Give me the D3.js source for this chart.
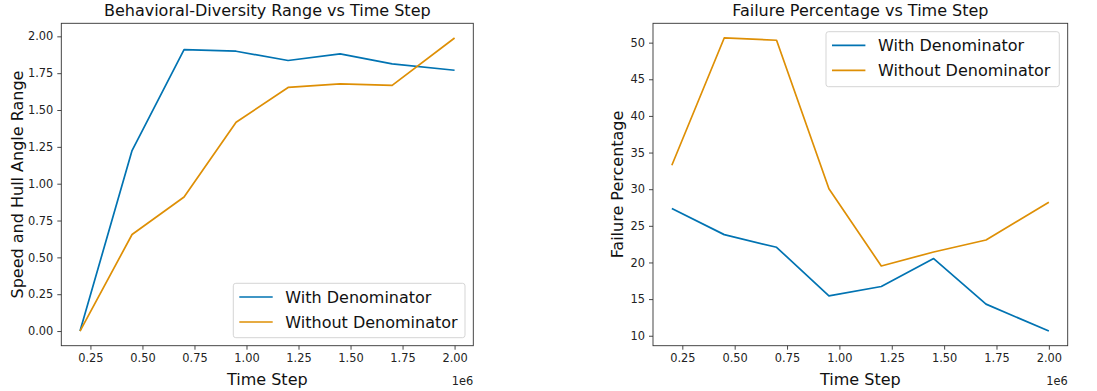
<!DOCTYPE html>
<html>
<head>
<meta charset="utf-8">
<script src="https://cdn.jsdelivr.net/npm/d3@7"></script>
<style>
  body { margin: 0; background: #fff; }
  svg { display: block; font-family: "DejaVu Sans", sans-serif; }
</style>
</head>
<body>
<svg id="chart" width="1097" height="391"></svg>
<script>
// data
const timeSteps = [200000, 450000, 700000, 950000, 1200000, 1450000, 1700000, 2000000];
const seriesNames = ["With Denominator", "Without Denominator"];

const rangeWith    = [0.00, 1.225, 1.910, 1.899, 1.836, 1.881, 1.813, 1.770];
const rangeWithout = [0.00, 0.655, 0.910, 1.417, 1.653, 1.678, 1.667, 1.989];

const failWith    = [27.37, 23.80, 22.07, 15.44, 16.72, 20.53, 14.31, 10.64];
const failWithout = [33.27, 50.64, 50.33, 30.05, 19.52, 21.43, 23.06, 28.23];

const xTicks = [250000, 500000, 750000, 1000000, 1250000, 1500000, 1750000, 2000000];
const rangeTicks = [0, 0.25, 0.5, 0.75, 1, 1.25, 1.5, 1.75, 2];
const failTicks = [10, 15, 20, 25, 30, 35, 40, 45, 50];

const colors = ["#0173b2", "#de8f05"];

const svg = d3.select("#chart");

function padded(values) {
  // matplotlib style 5% margins
  let [lo, hi] = d3.extent(values);
  let p = (hi - lo) * 0.05;
  return [lo - p, hi + p];
}

function drawPanel(opt) {
  let x = d3.scaleLinear()
      .domain(padded(timeSteps))
      .range([opt.left, opt.right]);
  let y = d3.scaleLinear()
      .domain(padded(opt.series[0].concat(opt.series[1])))
      .range([opt.bottom, opt.top]);

  let g = svg.append("g");

  // x axis
  let xAxis = g.append("g")
      .attr("transform", "translate(0," + opt.bottom + ")")
      .call(d3.axisBottom(x).tickValues(xTicks)
          .tickFormat(d => d3.format(".2f")(d / 1e6))
          .tickSize(4).tickPadding(4));
  // y axis
  let yAxis = g.append("g")
      .attr("transform", "translate(" + opt.left + ",0)")
      .call(d3.axisLeft(y).tickValues(opt.yTicks)
          .tickFormat(opt.yFormat)
          .tickSize(4).tickPadding(4));

  [xAxis, yAxis].forEach(a => {
    a.select(".domain").remove();
    a.selectAll(".tick line").attr("stroke", "#333").attr("stroke-width", 0.9);
    a.selectAll(".tick text")
        .attr("fill", "#222")
        .style("font-size", "11.4px")
        .style("font-family", "DejaVu Sans");
  });

  // frame
  g.append("rect")
      .attr("x", opt.left).attr("y", opt.top)
      .attr("width", opt.right - opt.left)
      .attr("height", opt.bottom - opt.top)
      .attr("fill", "none")
      .attr("stroke", "#333")
      .attr("stroke-width", 0.9);

  // lines
  let line = d3.line()
      .x((d, i) => x(timeSteps[i]))
      .y(d => y(d));
  opt.series.forEach((s, i) => {
    g.append("path")
        .datum(s)
        .attr("d", line)
        .attr("fill", "none")
        .attr("stroke", colors[i])
        .attr("stroke-width", 1.7)
        .attr("stroke-linejoin", "round");
  });

  let cx = (opt.left + opt.right) / 2;
  g.append("text")
      .attr("x", cx).attr("y", opt.top - 7.3)
      .attr("text-anchor", "middle")
      .style("font-size", "16px")
      .attr("fill", "#111")
      .text(opt.title);
  g.append("text")
      .attr("x", cx).attr("y", 384.5)
      .attr("text-anchor", "middle")
      .style("font-size", "16px")
      .attr("fill", "#111")
      .text("Time Step");
  g.append("text")
      .attr("transform", "translate(" + opt.yLabelX + "," + ((opt.top + opt.bottom) / 2) + ") rotate(-90)")
      .attr("text-anchor", "middle")
      .style("font-size", "16px")
      .attr("fill", "#111")
      .text(opt.yLabel);
  g.append("text")
      .attr("x", opt.right).attr("y", 384.5)
      .attr("text-anchor", "end")
      .style("font-size", "11.4px")
      .attr("fill", "#222")
      .text("1e6");

  // legend
  let lg = opt.legend;
  g.append("rect")
      .attr("x", lg.x).attr("y", lg.y)
      .attr("width", lg.w).attr("height", lg.h)
      .attr("rx", 2.5)
      .attr("fill", "#fff").attr("fill-opacity", 0.8)
      .attr("stroke", "#d0d0d0").attr("stroke-width", 0.9);
  seriesNames.forEach((name, i) => {
    let ry = lg.y + 13.7 + i * 25;
    g.append("line")
        .attr("x1", lg.x + 6).attr("x2", lg.x + 39.4)
        .attr("y1", ry).attr("y2", ry)
        .attr("stroke", colors[i]).attr("stroke-width", 1.7);
    g.append("text")
        .attr("x", lg.x + 52).attr("y", ry + 5.8)
        .style("font-size", "16px")
        .attr("fill", "#111")
        .text(name);
  });
}

drawPanel({
  left: 61.3, right: 473.3, top: 23.3, bottom: 345.7,
  series: [rangeWith, rangeWithout],
  yTicks: rangeTicks, yFormat: d3.format(".2f"),
  title: "Behavioral-Diversity Range vs Time Step",
  yLabel: "Speed and Hull Angle Range", yLabelX: 22.7,
  legend: {x: 233.3, y: 283.3, w: 231.7, h: 54.4}
});

drawPanel({
  left: 653, right: 1067.7, top: 23.3, bottom: 345.7,
  series: [failWith, failWithout],
  yTicks: failTicks, yFormat: d3.format("d"),
  title: "Failure Percentage vs Time Step",
  yLabel: "Failure Percentage", yLabelX: 622.7,
  legend: {x: 826, y: 31.7, w: 233.3, h: 55}
});
</script>
</body>
</html>
